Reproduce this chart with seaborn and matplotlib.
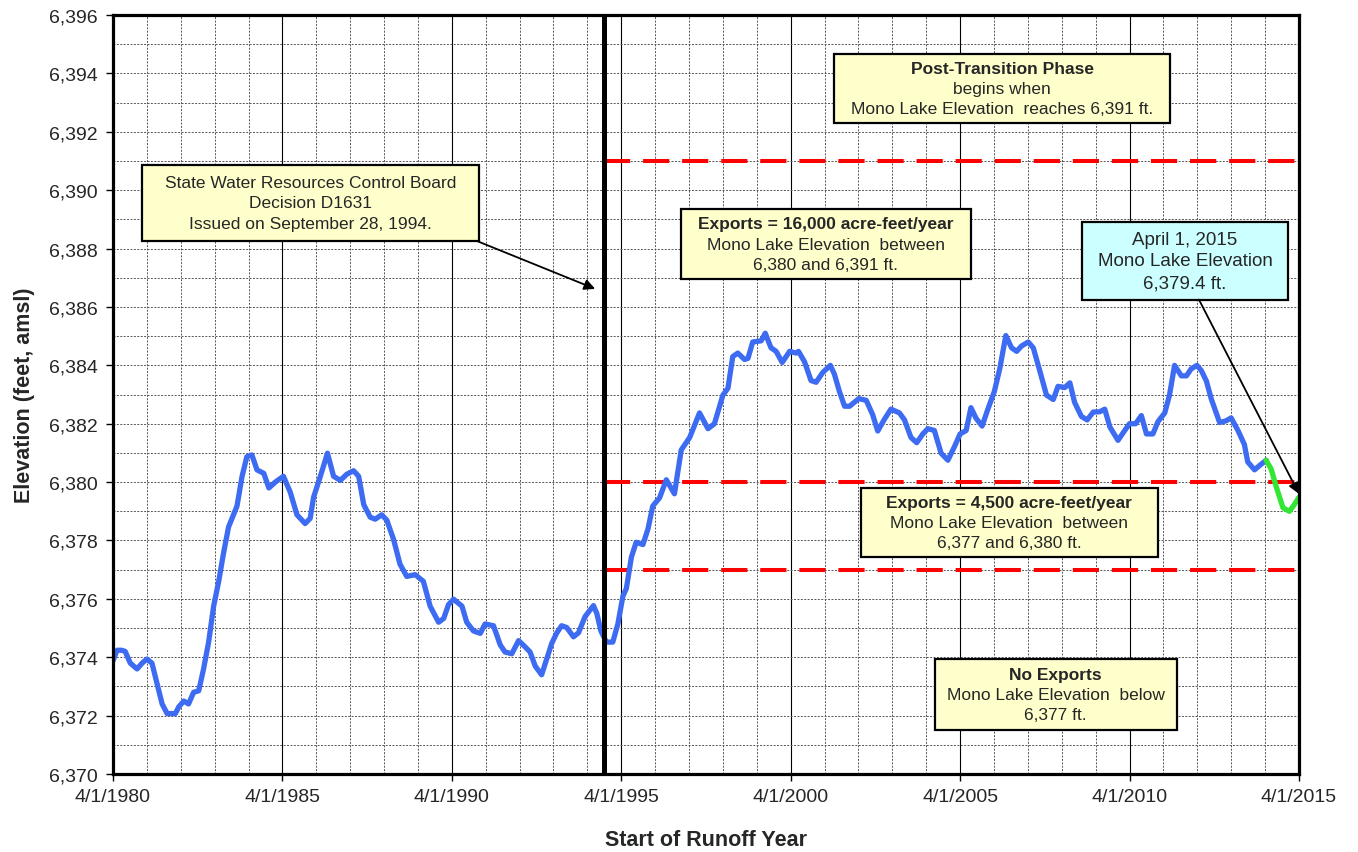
import numpy as np
import pandas as pd
import matplotlib
matplotlib.use('Agg')
import matplotlib.pyplot as plt
from matplotlib.patches import Rectangle
from matplotlib.ticker import FixedLocator, MultipleLocator, FuncFormatter
import seaborn as sns

# runoff years start on 4/1; x values are years after 4/1/1980
start_year = 1980.25

years_blue = [0.0, 0.12, 0.26, 0.36, 0.51, 0.71, 0.86, 1.0, 1.15, 1.3, 1.45, 1.6, 1.84, 1.94,
              2.09, 2.23, 2.38, 2.53, 2.67, 2.82, 2.97, 3.12, 3.26, 3.41, 3.66, 3.81, 3.95,
              4.1, 4.25, 4.45, 4.6, 4.79, 5.03, 5.23, 5.43, 5.67, 5.82, 5.92, 6.12, 6.33,
              6.51, 6.71, 6.9, 7.1, 7.25, 7.4, 7.59, 7.74, 7.93, 8.08, 8.28, 8.47, 8.67,
              8.92, 9.16, 9.36, 9.61, 9.76, 9.9, 10.05, 10.3, 10.44, 10.64, 10.84, 10.98,
              11.23, 11.43, 11.57, 11.77, 11.97, 12.16, 12.31, 12.46, 12.65, 12.8, 12.95,
              13.1, 13.24, 13.39, 13.59, 13.74, 13.93, 14.18, 14.28, 14.4, 14.56, 14.75,
              14.9, 15.05, 15.15, 15.3, 15.44, 15.64, 15.79, 15.93, 16.13, 16.33, 16.57,
              16.77, 17.02, 17.31, 17.56, 17.75, 18.0, 18.15, 18.29, 18.44, 18.64, 18.74,
              18.88, 19.13, 19.25, 19.42, 19.57, 19.75, 19.97, 20.16, 20.23, 20.41, 20.6,
              20.75, 20.95, 21.17, 21.29, 21.44, 21.59, 21.74, 22.01, 22.23, 22.42, 22.57,
              22.77, 22.96, 23.21, 23.36, 23.55, 23.72, 23.9, 24.05, 24.24, 24.44, 24.64,
              24.84, 25.0, 25.18, 25.32, 25.47, 25.65, 25.82, 26.01, 26.17, 26.35, 26.52,
              26.67, 26.81, 27.01, 27.16, 27.35, 27.55, 27.75, 27.89, 28.09, 28.24, 28.38,
              28.58, 28.75, 28.93, 29.12, 29.27, 29.42, 29.66, 29.86, 30.0, 30.18, 30.35,
              30.5, 30.69, 30.84, 31.04, 31.18, 31.33, 31.53, 31.68, 31.82, 31.99, 32.12,
              32.27, 32.41, 32.66, 32.85, 33.0, 33.2, 33.39, 33.49, 33.69, 33.84, 34.03]
elev_blue = [6373.88, 6374.24, 6374.24, 6374.2, 6373.8, 6373.6, 6373.8, 6373.94, 6373.8,
             6373.1, 6372.4, 6372.07, 6372.07, 6372.3, 6372.5, 6372.4, 6372.8, 6372.85,
             6373.58, 6374.5, 6375.75, 6376.6, 6377.55, 6378.46, 6379.18, 6380.2, 6380.87,
             6380.93, 6380.42, 6380.3, 6379.8, 6380.0, 6380.2, 6379.66, 6378.88, 6378.58,
             6378.76, 6379.48, 6380.2, 6380.99, 6380.2, 6380.06, 6380.27, 6380.39, 6380.2,
             6379.23, 6378.8, 6378.73, 6378.88, 6378.7, 6378.04, 6377.19, 6376.77, 6376.83,
             6376.6, 6375.75, 6375.2, 6375.33, 6375.8, 6375.99, 6375.75, 6375.2, 6374.9,
             6374.82, 6375.14, 6375.08, 6374.42, 6374.18, 6374.12, 6374.57, 6374.36,
             6374.18, 6373.7, 6373.4, 6373.94, 6374.48, 6374.84, 6375.08, 6375.02, 6374.7,
             6374.84, 6375.39, 6375.77, 6375.5, 6374.9, 6374.52, 6374.52, 6375.14, 6376.1,
             6376.35, 6377.43, 6377.94, 6377.86, 6378.4, 6379.18, 6379.46, 6380.08, 6379.6,
             6381.1, 6381.53, 6382.37, 6381.83, 6382.0, 6382.98, 6383.22, 6384.3, 6384.42,
             6384.2, 6384.24, 6384.8, 6384.84, 6385.1, 6384.6, 6384.48, 6384.1, 6384.48,
             6384.42, 6384.48, 6384.12, 6383.48, 6383.42, 6383.76, 6384.0, 6383.7, 6383.1,
             6382.6, 6382.6, 6382.86, 6382.8, 6382.31, 6381.75, 6382.16, 6382.5, 6382.37,
             6382.13, 6381.53, 6381.35, 6381.65, 6381.83, 6381.77, 6380.99, 6380.75,
             6381.23, 6381.65, 6381.77, 6382.55, 6382.19, 6381.92, 6382.5, 6383.1, 6383.88,
             6385.02, 6384.6, 6384.48, 6384.66, 6384.8, 6384.6, 6383.82, 6382.98, 6382.83,
             6383.28, 6383.24, 6383.4, 6382.73, 6382.25, 6382.13, 6382.4, 6382.41, 6382.5,
             6381.89, 6381.43, 6381.77, 6382.0, 6382.0, 6382.28, 6381.65, 6381.65, 6382.07,
             6382.37, 6382.98, 6384.0, 6383.64, 6383.64, 6383.88, 6384.0, 6383.82, 6383.46,
             6382.86, 6382.04, 6382.1, 6382.2, 6381.77, 6381.29, 6380.69, 6380.42, 6380.57,
             6380.75]

# latest year shown in green
years_green = [34.03, 34.18, 34.33, 34.53, 34.72, 34.87, 35.0]
elev_green = [6380.75, 6380.45, 6379.84, 6379.12, 6379.0, 6379.24, 6379.48]

decision_year = 14.49          # Sept 28, 1994
export_limits = [6377, 6380, 6391]
tick_years = [1980, 1985, 1990, 1995, 2000, 2005, 2010, 2015]

# text boxes: (t0, t1, y0, y1, lines, bold first line, face colour)
boxes = [
    (0.855, 10.79, 6388.26, 6390.87,
     ["State Water Resources Control Board", "Decision D1631", "Issued on September 28, 1994."],
     False, '#FFFFCC', 12.5),
    (21.29, 31.19, 6392.29, 6394.67,
     ["Post-Transition Phase", "begins when", "Mono Lake Elevation  reaches 6,391 ft."],
     True, '#FFFFCC', 12.5),
    (16.75, 25.33, 6386.97, 6389.34,
     ["Exports = 16,000 acre-feet/year", "Mono Lake Elevation  between", "6,380 and 6,391 ft."],
     True, '#FFFFCC', 12.5),
    (28.6, 34.68, 6386.25, 6388.9,
     ["April 1, 2015", "Mono Lake Elevation", "6,379.4 ft."],
     False, '#CCFFFF', 13.5),
    (22.08, 30.83, 6377.43, 6379.8,
     ["Exports = 4,500 acre-feet/year", "Mono Lake Elevation  between", "6,377 and 6,380 ft."],
     True, '#FFFFCC', 12.5),
    (24.26, 31.39, 6371.52, 6373.94,
     ["No Exports", "Mono Lake Elevation  below", "6,377 ft."],
     True, '#FFFFCC', 12.5),
]
# arrows: (tail t, tail y, tip t, tip y)
arrows = [(10.74, 6388.26, 14.23, 6386.62),
          (32.05, 6386.25, 35.0, 6379.6)]

sns.set_style('white')
plt.rcParams['font.family'] = ['Liberation Sans', 'DejaVu Sans']

fig = plt.figure(figsize=(13.58, 8.53), dpi=100)
ax = fig.add_axes([0.0832, 0.0914, 0.8733, 0.8898])

df_blue = pd.DataFrame({'year': start_year + np.array(years_blue), 'elev': elev_blue})
df_green = pd.DataFrame({'year': start_year + np.array(years_green), 'elev': elev_green})
sns.lineplot(data=df_blue, x='year', y='elev', color='#3D6BF2', lw=3.8,
             estimator=None, sort=False, ax=ax, zorder=4)
sns.lineplot(data=df_green, x='year', y='elev', color='#33E633', lw=3.8,
             estimator=None, sort=False, ax=ax, zorder=4)
for ln in ax.lines:
    ln.set_solid_joinstyle('round')
    ln.set_solid_capstyle('round')

end_year = start_year + 35
ax.hlines(export_limits, start_year + decision_year, end_year, colors='#FF0000',
          lw=2.9, linestyles=(0, (6.5, 3.2)), zorder=3)
ax.axvline(start_year + decision_year, color='black', lw=3.6, zorder=4)

# axes and grid
ax.set_xlim(start_year, end_year)
ax.set_ylim(6370, 6396)
ax.set_xticks([y + 0.25 for y in tick_years])
ax.set_xticklabels([f'4/1/{y}' for y in tick_years])
ax.xaxis.set_minor_locator(FixedLocator(start_year + np.arange(0, 36)))
ax.yaxis.set_major_locator(MultipleLocator(2))
ax.yaxis.set_minor_locator(MultipleLocator(1))
ax.yaxis.set_major_formatter(FuncFormatter(lambda v, p: f'{v:,.0f}'))
ax.set_axisbelow(True)
ax.grid(which='major', axis='x', ls='-', color='black', lw=0.8)
ax.grid(which='minor', axis='x', ls=(0, (2, 1.5)), color='#555555', lw=0.7)
ax.grid(which='both', axis='y', ls=(0, (2, 1.5)), color='#555555', lw=0.7)
ax.tick_params(which='major', direction='out', length=5, width=1, color='black',
               labelsize=14, bottom=True, left=True)
ax.tick_params(axis='x', pad=5)
ax.tick_params(axis='y', pad=6)
ax.tick_params(which='minor', length=0)
for s in ax.spines.values():
    s.set_linewidth(2.3)
    s.set_color('black')
    s.set_zorder(6)

ax.set_xlabel('Start of Runoff Year', fontsize=15.5, weight='bold', labelpad=17)
ax.set_ylabel('Elevation (feet, amsl)', fontsize=15.5, weight='bold', labelpad=10)

# annotation boxes
for t0, t1, y0, y1, lines, bold, face, fs in boxes:
    ax.add_patch(Rectangle((start_year + t0, y0), t1 - t0, y1 - y0, facecolor=face,
                           edgecolor='black', lw=1.6, zorder=5))
    cx = start_year + (t0 + t1) / 2
    cy = (y0 + y1) / 2
    step = fs * 1.16
    for i, txt in enumerate(lines):
        off = (len(lines) - 1) / 2 * step - i * step
        ax.annotate(txt, xy=(cx, cy), xytext=(0, off), textcoords='offset points',
                    ha='center', va='center', fontsize=fs, zorder=7,
                    weight='bold' if (bold and i == 0) else 'normal')

for ta, ya, tb, yb in arrows:
    ax.annotate('', xy=(start_year + tb, yb), xytext=(start_year + ta, ya),
                arrowprops=dict(arrowstyle='-|>', color='black', lw=1.3,
                                mutation_scale=16, shrinkA=0, shrinkB=0), zorder=7)

fig.savefig('out.png', dpi=100)
